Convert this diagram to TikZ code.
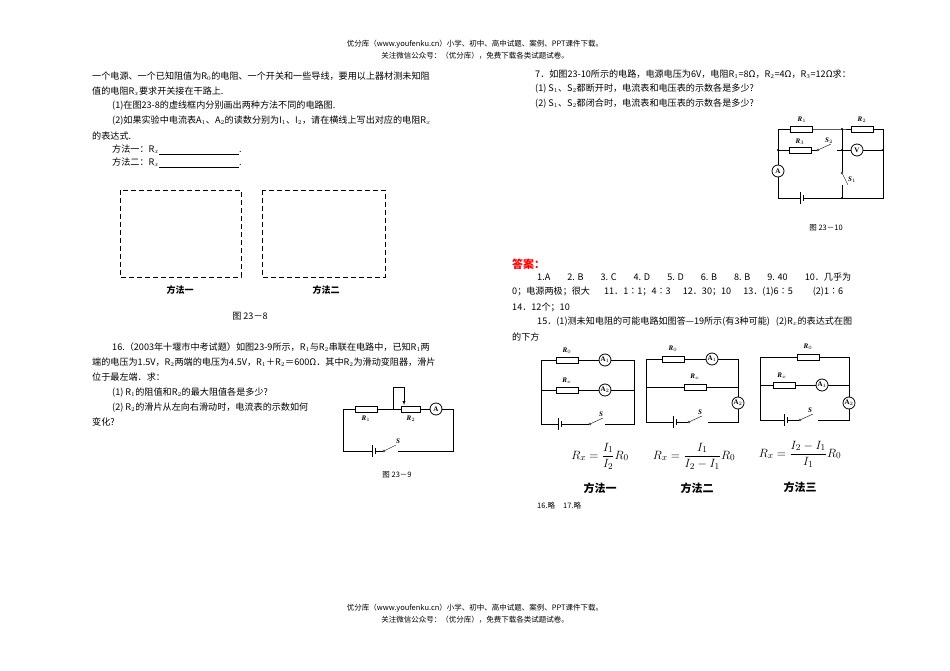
\documentclass[tikz,border=0pt]{standalone}
\usepackage{amsmath}
\usepackage{fontspec}
\setmainfont{Liberation Serif}
\newfontfamily\cjk{Noto Sans CJK SC}
\usetikzlibrary{calc}
\newcommand{\batt}[2]{\draw[line width=1pt] (#1,#2-6)--(#1,#2+6); \draw (#1+3,#2-3)--(#1+3,#2+3);}
\newcommand{\swt}[3]{\draw (#1,#2) circle (1.2pt); \draw (#1+1,#2-0.5)--(#1+#3,#2-6);}

\begin{document}
\begin{tikzpicture}[x=1pt,y=-1pt]
	\tikzstyle{txt}   = [anchor=west, inner sep=0pt, font=\cjk\fontsize{9.1}{10}\selectfont]
	\tikzstyle{small} = [inner sep=0pt, font=\cjk\fontsize{7.5}{9}\selectfont]
	\tikzstyle{res}   = [rectangle, draw, fill=white, minimum width=22pt, minimum height=6pt, inner sep=0pt]
	\tikzstyle{meter} = [circle, draw, thick, fill=white, minimum size=12pt, inner sep=0pt, font=\bfseries\fontsize{7}{8}\selectfont]
	\tikzstyle{lbl}   = [inner sep=0pt, font=\bfseries\itshape\fontsize{7}{8}\selectfont]
	\tikzstyle{frm}   = [inner sep=0pt, font=\fontsize{13}{14}\selectfont]
	\useasboundingbox[fill=white] (0,0) rectangle (950,671);

	%% header and footer
	\node[small] (h1) at (475,44) {优分库（www.youfenku.cn）小学、初中、高中试题、案例、PPT课件下载。};
	\node[small] (h2) at (475,56) {关注微信公众号：（优分库），免费下载各类试题试卷。};
	\node[small] (f1) at (475,608) {优分库（www.youfenku.cn）小学、初中、高中试题、案例、PPT课件下载。};
	\node[small] (f2) at (475,620) {关注微信公众号：（优分库），免费下载各类试题试卷。};

	%% left column
	\node[txt] (t1) at (92,76) {一个电源、一个已知阻值为R$_0$的电阻、一个开关和一些导线，要用以上器材测未知阻};
	\node[txt] (t2) at (92,91) {值的电阻R$_x$要求开关接在干路上.};
	\node[txt] (t3) at (112,106) {(1)在图23-8的虚线框内分别画出两种方法不同的电路图.};
	\node[txt] (t4) at (112,121) {(2)如果实验中电流表A$_1$、A$_2$的读数分别为I$_1$、I$_2$，请在横线上写出对应的电阻R$_x$};
	\node[txt] (t5) at (92,136) {的表达式.};
	\node[txt] (t6) at (112,150) {方法一：R$_x$\underline{\hspace{80pt}}.};
	\node[txt] (t7) at (112,163) {方法二：R$_x$\underline{\hspace{80pt}}.};

	\draw[thick, dash pattern=on 5pt off 3pt] (120,190) rectangle (241,277);
	\draw[thick, dash pattern=on 5pt off 3pt] (262,190) rectangle (385,277);
	\node[txt, anchor=center, font=\cjk\bfseries\fontsize{9}{10}\selectfont] (m1) at (180,290) {方法一};
	\node[txt, anchor=center, font=\cjk\bfseries\fontsize{9}{10}\selectfont] (m2) at (326,290) {方法二};
	\node[txt, anchor=center] (c8) at (250,316) {图 23－8};

	\node[txt] (q1) at (112,347) {16.（2003年十堰市中考试题）如图23-9所示，R$_1$与R$_2$串联在电路中，已知R$_1$两};
	\node[txt] (q2) at (92,362) {端的电压为1.5V，R$_2$两端的电压为4.5V，R$_1$＋R$_2$＝600Ω．其中R$_2$为滑动变阻器，滑片};
	\node[txt] (q3) at (92,377) {位于最左端．求：};
	\node[txt] (q4) at (112,393) {(1) R$_1$的阻值和R$_2$的最大阻值各是多少?};
	\node[txt] (q5) at (112,408) {(2) R$_2$的滑片从左向右滑动时，电流表的示数如何};
	\node[txt] (q6) at (92,422) {变化?};

	%% circuit 23-9
	\coordinate (a1) at (343,409); \coordinate (a2) at (453,409);
	\coordinate (a3) at (453,451); \coordinate (a4) at (343,451);
	\node[res] (r1) at (366,409) {}; \node[res, minimum width=19pt] (r2) at (411,409) {};
	\node[meter] (am) at (436,409) {A};
	\draw (a4) -- (a1) -- (r1) -- (r2) -- (am) -- (a2) -- (a3) -- (398,451);
	\draw (a4) -- (372,451); \batt{372}{451} \draw (375,451) -- (383,451); \swt{384}{451}{12}
	\draw (393,409) -- (393,387) -- (404,387) edge[-latex] (404,405);
	\node[lbl] (lr1) at (366,419) {R$_1$}; \node[lbl] (lr2) at (411,419) {R$_2$};
	\node[lbl] (ls) at (398,441) {S};
	\node[txt, anchor=center, font=\cjk\fontsize{7.5}{9}\selectfont] (c9) at (397,475) {图 23－9};

	%% right column
	\node[txt] (p1) at (535,74) {7．如图23-10所示的电路，电源电压为6V，电阻R$_1$=8Ω，R$_2$=4Ω，R$_3$=12Ω求：};
	\node[txt] (p2) at (535,89) {(1) S$_1$、S$_2$都断开时，电流表和电压表的示数各是多少?};
	\node[txt] (p3) at (535,104) {(2) S$_1$、S$_2$都闭合时，电流表和电压表的示数各是多少?};

	%% circuit 23-10
	\node[res] (b1) at (801,129) {}; \node[res] (b2) at (862,129) {};
	\node[res] (b3) at (800,150) {};
	\node[meter] (vm) at (857,150) {V}; \node[meter] (am2) at (778,171) {A};
	\coordinate (k1) at (778,129); \coordinate (k2) at (883,129);
	\coordinate (k3) at (883,198); \coordinate (k4) at (778,198);
	\coordinate (j1) at (842,129); \coordinate (j2) at (842,150);
	\coordinate (j3) at (778,150); \coordinate (j4) at (883,150); \coordinate (j5) at (842,198);
	\draw (k4) -- (am2) -- (k1) -- (b1) -- (j1) -- (b2) -- (k2) -- (k3) -- (j5) -- (842,185);
	\draw (j3) -- (b3) -- (817,150); \swt{818}{150}{13}
	\draw (j1) -- (j2) -- (vm) -- (j4); \draw (837,150) -- (j2);
	\draw (j2) -- (842,172); \draw (842,173) circle (1.2pt); \draw (842.5,174) -- (848,185);
	\draw (k4) -- (800,198); \batt{800}{198} \draw (803,198) -- (j5);
	\foreach \p in {j1,j2,j3,j4,j5} \fill (\p) circle (1.1pt);
	\node[lbl] (lb1) at (802,120) {R$_1$}; \node[lbl] (lb2) at (862,120) {R$_2$};
	\node[lbl] (lb3) at (800,142) {R$_3$}; \node[lbl] (ls2) at (829,141) {S$_2$};
	\node[lbl] (ls1) at (852,180) {S$_1$};
	\node[txt, anchor=center, font=\cjk\fontsize{7.5}{9}\selectfont] (c10) at (826,228) {图 23－10};

	%% answers
	\node[txt, text=red, font=\cjk\bfseries\fontsize{11}{12}\selectfont] (ans) at (512,264) {答案：};
	\node[txt] (s1) at (537,277) {1.A\hspace{17pt}2. B\hspace{17pt}3. C\hspace{17pt}4. D\hspace{17pt}5. D\hspace{17pt}6. B\hspace{17pt}8. B\hspace{17pt}9. 40\hspace{17pt}10．几乎为};
	\node[txt] (s2) at (512,292) {0；电源两极；很大\hspace{14pt}11．1∶1；4∶3\hspace{12pt}12．30；10\hspace{12pt}13．(1)6∶5\hspace{20pt}(2)1∶6};
	\node[txt] (s3) at (512,307) {14．12个；10};
	\node[txt] (s4) at (537,322) {15．(1)测未知电阻的可能电路如图答—19所示(有3种可能)\hspace{6pt}(2)R$_x$的表达式在图};
	\node[txt] (s5) at (512,337) {的下方};

	%% method one
	\node[res] (e1) at (567,360) {}; \node[meter] (ea1) at (605,360) {A$_1$};
	\node[res] (e2) at (567,390) {}; \node[meter] (ea2) at (605,390) {A$_2$};
	\draw (541,424) -- (541,360) -- (e1) -- (ea1) -- (634,360) -- (634,424) -- (605,424);
	\draw (541,390) -- (e2) -- (ea2) -- (634,390);
	\draw (541,424) -- (558,424); \batt{558}{424} \draw (561,424) -- (589,424); \swt{590}{424}{13}
	\node[lbl] (n1) at (567,351) {R$_0$}; \node[lbl] (n2) at (567,381) {R$_x$}; \node[lbl] (n3) at (601,414) {S};

	%% method two
	\node[res] (g1) at (673,359) {}; \node[meter] (ga1) at (712,359) {A$_1$};
	\node[res] (g2) at (695,387) {}; \node[meter] (ga2) at (738,403) {A$_2$};
	\draw (646,422) -- (646,359) -- (g1) -- (ga1) -- (738,359) -- (ga2) -- (738,422) -- (708,422);
	\draw (646,387) -- (g2) -- (738,387);
	\draw (646,422) -- (673,422); \batt{673}{422} \draw (676,422) -- (688,422); \swt{689}{422}{13}
	\node[lbl] (n4) at (673,349) {R$_0$}; \node[lbl] (n5) at (695,377) {R$_x$}; \node[lbl] (n6) at (700,412) {S};

	%% method three
	\node[res] (d1) at (808,357) {}; \node[res] (d2) at (784,385) {};
	\node[meter] (da1) at (822,385) {A$_1$}; \node[meter] (da2) at (849,403) {A$_2$};
	\draw (760,420) -- (760,357) -- (d1) -- (849,357) -- (da2) -- (849,420) -- (818,420);
	\draw (760,385) -- (d2) -- (da1) -- (849,385);
	\draw (760,420) -- (784,420); \batt{784}{420} \draw (787,420) -- (799,420); \swt{800}{420}{13}
	\node[lbl] (n7) at (808,347) {R$_0$}; \node[lbl] (n8) at (782,376) {R$_x$}; \node[lbl] (n9) at (810,410) {S};

	\node[frm] (fx1) at (600,456) {$R_x=\dfrac{I_1}{I_2}R_0$};
	\node[frm] (fx2) at (694,456) {$R_x=\dfrac{I_1}{I_2-I_1}R_0$};
	\node[frm] (fx3) at (800,454) {$R_x=\dfrac{I_2-I_1}{I_1}R_0$};
	\node[txt, anchor=center, font=\cjk\bfseries\fontsize{11}{12}\selectfont] (w1) at (600,488) {方法一};
	\node[txt, anchor=center, font=\cjk\bfseries\fontsize{11}{12}\selectfont] (w2) at (697,488) {方法二};
	\node[txt, anchor=center, font=\cjk\bfseries\fontsize{11}{12}\selectfont] (w3) at (800,487) {方法三};
	\node[txt, font=\cjk\fontsize{7.5}{9}\selectfont] (s6) at (537,506) {16.略\hspace{8pt}17.略};
\end{tikzpicture}
\end{document}
